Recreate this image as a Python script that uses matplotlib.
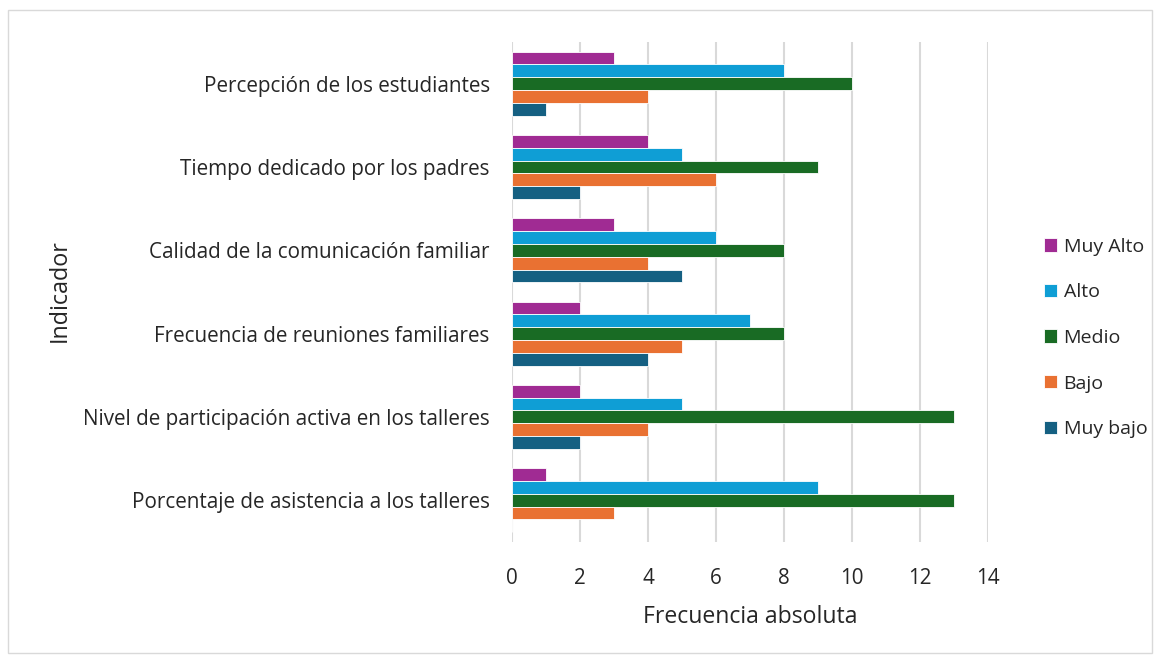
import matplotlib.pyplot as plt
import numpy as np
from matplotlib.patches import Rectangle

plt.rcParams['font.family'] = ['Open Sans', 'DejaVu Sans']

# indicators, top to bottom
indicadores = ['Percepción de los estudiantes',
               'Tiempo dedicado por los padres',
               'Calidad de la comunicación familiar',
               'Frecuencia de reuniones familiares',
               'Nivel de participación activa en los talleres',
               'Porcentaje de asistencia a los talleres']

niveles = ['Muy Alto', 'Alto', 'Medio', 'Bajo', 'Muy bajo']
colores = ['#A02B93', '#0F9ED5', '#196B24', '#E97132', '#156082']

muy_alto = [3, 4, 3, 2, 2, 1]
alto = [8, 5, 6, 7, 5, 9]
medio = [10, 9, 8, 8, 13, 13]
bajo = [4, 6, 4, 5, 4, 3]
muy_bajo = [1, 2, 5, 4, 2, 0]
series = [muy_alto, alto, medio, bajo, muy_bajo]

fig = plt.figure(figsize=(11.58, 6.56), dpi=100)
ax = fig.add_axes([0.4421, 0.174, 0.4111, 0.762])

y = np.arange(len(indicadores))
h = 0.154
for i, (vals, lab, col) in enumerate(zip(series, niveles, colores)):
    ax.barh(y + (i - 2) * h, vals, height=h, color=col, label=lab,
            edgecolor='white', linewidth=0.6, zorder=3)

ax.set_xlim(0, 14)
ax.set_ylim(len(indicadores) - 0.5, -0.5)
ax.set_xticks(range(0, 15, 2))
ax.set_yticks(y)
ax.set_yticklabels(indicadores)
ax.tick_params(length=0, labelsize=14.85, colors='#262626')
ax.tick_params(axis='x', pad=19)
ax.tick_params(axis='y', pad=16)
ax.grid(axis='x', color='#D9D9D9', linewidth=1.5, zorder=0)
for s in ax.spines.values():
    s.set_visible(False)

ax.set_xlabel('Frecuencia absoluta', fontsize=16.6, color='#262626', labelpad=11)
fig.text(0.052, 0.557, 'Indicador', rotation=90, fontsize=16.8,
         color='#262626', ha='center', va='center')

ax.legend(loc='center left', bbox_to_anchor=(1.08, 0.408), frameon=False,
          fontsize=14, labelspacing=1.42, handlelength=0.68,
          handleheight=0.68, handletextpad=0.35, labelcolor='#262626')

fig.patches.append(Rectangle((0.007, 0.005), 0.988, 0.98, transform=fig.transFigure,
                             fill=False, edgecolor='#D9D9D9', linewidth=1))

fig.savefig('out.png', dpi=100)
